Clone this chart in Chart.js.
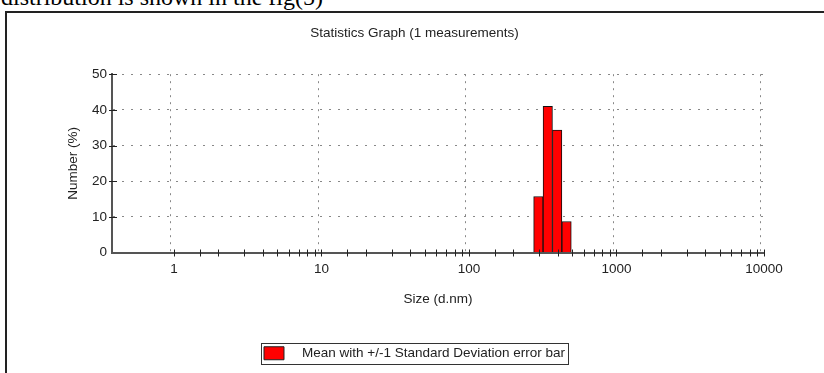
<!DOCTYPE html>
<html>
<head>
<meta charset="utf-8">
<script src="https://cdn.jsdelivr.net/npm/chart.js@4.4.1/dist/chart.umd.min.js"></script>
<style>
  body { margin: 0; background: #fff; }
  #page { position: relative; width: 824px; height: 373px; overflow: hidden; }
  #caption { position: absolute; left: 1px; top: -15px; font: 24px/24px "Liberation Serif", "Times New Roman", serif; color: #000; white-space: nowrap; }
  #frame { position: absolute; left: 5px; top: 11px; width: 830px; height: 380px; border-left: 2px solid #222; border-top: 2px solid #222; }
  #chart-wrapper { position: absolute; left: 0; top: 0; width: 824px; height: 373px; }
</style>
</head>
<body>
<div id="page">
  <div id="caption">distribution is shown in the fig(5)</div>
  <div id="frame"></div>
  <div id="chart-wrapper"><canvas id="chart" width="824" height="373"></canvas></div>
</div>
<script>
// size classes (d.nm) and number distribution (%)
const sizes = [295.3, 342.0, 396.1, 458.7];
const numbers = [15.7, 41.0, 34.3, 8.7];
const xTickLabels = ['1', '10', '100', '1000', '10000'];
const yTickLabels = ['0', '10', '20', '30', '40', '50'];

const FONT = '"Liberation Sans", Arial, sans-serif';
const FS = 13.5;
const isDecade = v => Math.abs(Math.log10(v) - Math.round(Math.log10(v))) < 1e-9;

// little tick marks crossing the axes, as in the Zetasizer plot
const crossTicks = {
  id: 'crossTicks',
  afterDraw(chart) {
    const { ctx, chartArea, scales } = chart;
    ctx.save();
    ctx.strokeStyle = '#222';
    ctx.lineWidth = 1;
    ctx.beginPath();
    scales.x.ticks.forEach(t => {
      if (t.value < 1 || t.value > 10000) return;
      const px = Math.round(scales.x.getPixelForValue(t.value)) + 0.5;
      ctx.moveTo(px, chartArea.bottom - 3);
      ctx.lineTo(px, chartArea.bottom + 4);
    });
    scales.y.ticks.forEach(t => {
      if (t.value <= 0) return;
      const py = Math.round(scales.y.getPixelForValue(t.value)) + 0.5;
      ctx.moveTo(chartArea.left - 3, py);
      ctx.lineTo(chartArea.left + 5, py);
    });
    ctx.stroke();

    // frame around the legend entry
    const hit = chart.legend.legendHitBoxes[0];
    if (hit) {
      ctx.strokeStyle = '#333';
      ctx.strokeRect(Math.round(hit.left) - 2.5, Math.round(hit.top) - 3.5, Math.round(hit.width) + 6, Math.round(hit.height) + 7);
    }
    ctx.restore();
  },
};

new Chart(document.getElementById('chart').getContext('2d'), {
  type: 'bar',
  data: {
    datasets: [
      {
        label: 'Mean with +/-1 Standard Deviation error bar',
        data: sizes.map((s, i) => ({ x: s, y: numbers[i] })),
        backgroundColor: '#ff0000',
        borderColor: '#111',
        borderWidth: 1,
        borderSkipped: 'bottom',
        barThickness: 9.4,
        yAxisID: 'y',
      },
    ],
  },
  plugins: [crossTicks],
  options: {
    responsive: false,
    animation: false,
    maintainAspectRatio: false,
    layout: { padding: { left: 5, right: 0, top: 0, bottom: 3 } },
    plugins: {
      tooltip: { enabled: false },
      title: {
        display: true,
        text: 'Statistics Graph (1 measurements)',
        color: '#222',
        font: { family: FONT, size: FS, weight: 'normal' },
        padding: { top: 25, bottom: 33 },
      },
      legend: {
        position: 'bottom',
        labels: {
          color: '#222',
          font: { family: FONT, size: FS },
          boxWidth: 20,
          boxHeight: 13,
          padding: 10,
          generateLabels: chart => Chart.defaults.plugins.legend.labels.generateLabels(chart).map(l => ({ ...l, text: '   ' + l.text, lineWidth: 1, strokeStyle: '#222' })),
        },
      },
    },
    scales: {
      x: {
        type: 'logarithmic',
        min: 0.38,
        max: 10000,
        afterFit: s => { s.height = 84; },
        grid: {
          drawTicks: false,
          color: c => (c.tick && isDecade(c.tick.value) && c.tick.value >= 1 ? '#888' : 'rgba(0,0,0,0)'),
          lineWidth: 1,
        },
        border: { color: '#555', width: 2, dash: [2, 5] },
        ticks: {
          autoSkip: false,
          maxRotation: 0,
          padding: 9,
          color: '#222',
          font: { family: FONT, size: FS },
          callback: v => (isDecade(v) && v >= 1 ? xTickLabels[Math.round(Math.log10(v))] : ''),
        },
        title: {
          display: true,
          text: 'Size (d.nm)',
          color: '#222',
          font: { family: FONT, size: FS },
          padding: { top: 8, bottom: 29 },
        },
      },
      y: {
        min: 0,
        max: 50,
        afterFit: s => { s.width = 107; },
        grid: {
          drawTicks: false,
          color: c => (c.tick && c.tick.value > 0 && c.tick.value % 10 === 0 ? '#888' : 'rgba(0,0,0,0)'),
          lineWidth: 1,
        },
        border: { color: '#555', width: 2, dash: [2, 7] },
        ticks: {
          stepSize: 5,
          padding: 5,
          color: '#222',
          font: { family: FONT, size: FS },
          callback: v => (v % 10 === 0 ? yTickLabels[v / 10] : ''),
        },
        title: {
          display: true,
          text: 'Number (%)',
          color: '#222',
          font: { family: FONT, size: FS },
          padding: { top: 60, bottom: 0 },
        },
      },
      spacer: {
        position: 'right',
        display: true,
        afterFit: s => { s.width = 60; },
        grid: { display: false },
        border: { display: false },
        ticks: { display: false },
      },
    },
  },
});
</script>
</body>
</html>
